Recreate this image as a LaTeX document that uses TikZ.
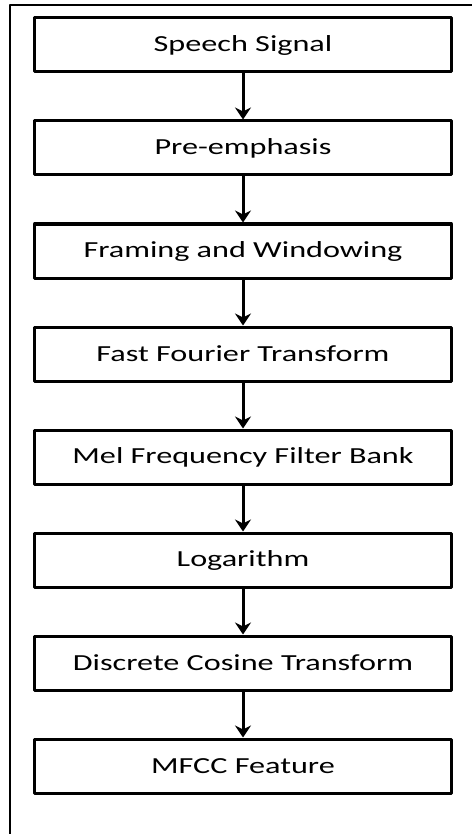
\documentclass[tikz,border=0pt]{standalone}
\usepackage{fontspec}
\setmainfont[FakeStretch=1.4]{Carlito}
\usetikzlibrary{positioning,arrows.meta}
\begin{document}
\begin{tikzpicture}[x=1pt,y=-1pt,>={Stealth[length=12pt,width=16pt]},line join=round,
	stage/.style={draw,line width=3pt,minimum width=417pt,minimum height=54pt,inner sep=0pt,font=\fontsize{23}{27}\selectfont},
	node distance=46pt]
	\useasboundingbox (0,0) rectangle (472,834);
	\draw[line width=1.5pt] (10,834)--(10,5)--(472,5);
	\node[stage] (sig) at (243,45) {Speech Signal};
	\node[stage,below=of sig] (pre) {Pre-emphasis};
	\node[stage,below=of pre] (frame) {Framing and Windowing};
	\node[stage,below=of frame] (fft) {Fast Fourier Transform};
	\node[stage,below=of fft] (mel) {Mel Frequency Filter Bank};
	\node[stage,below=of mel] (log) {Logarithm};
	\node[stage,below=of log] (dct) {Discrete Cosine Transform};
	\node[stage,below=of dct] (mfcc) {MFCC Feature};
	\foreach \a/\b in {sig/pre,pre/frame,frame/fft,fft/mel,mel/log,log/dct,dct/mfcc}\draw[->,line width=3pt] (\a)--(\b);
\end{tikzpicture}
\end{document}
